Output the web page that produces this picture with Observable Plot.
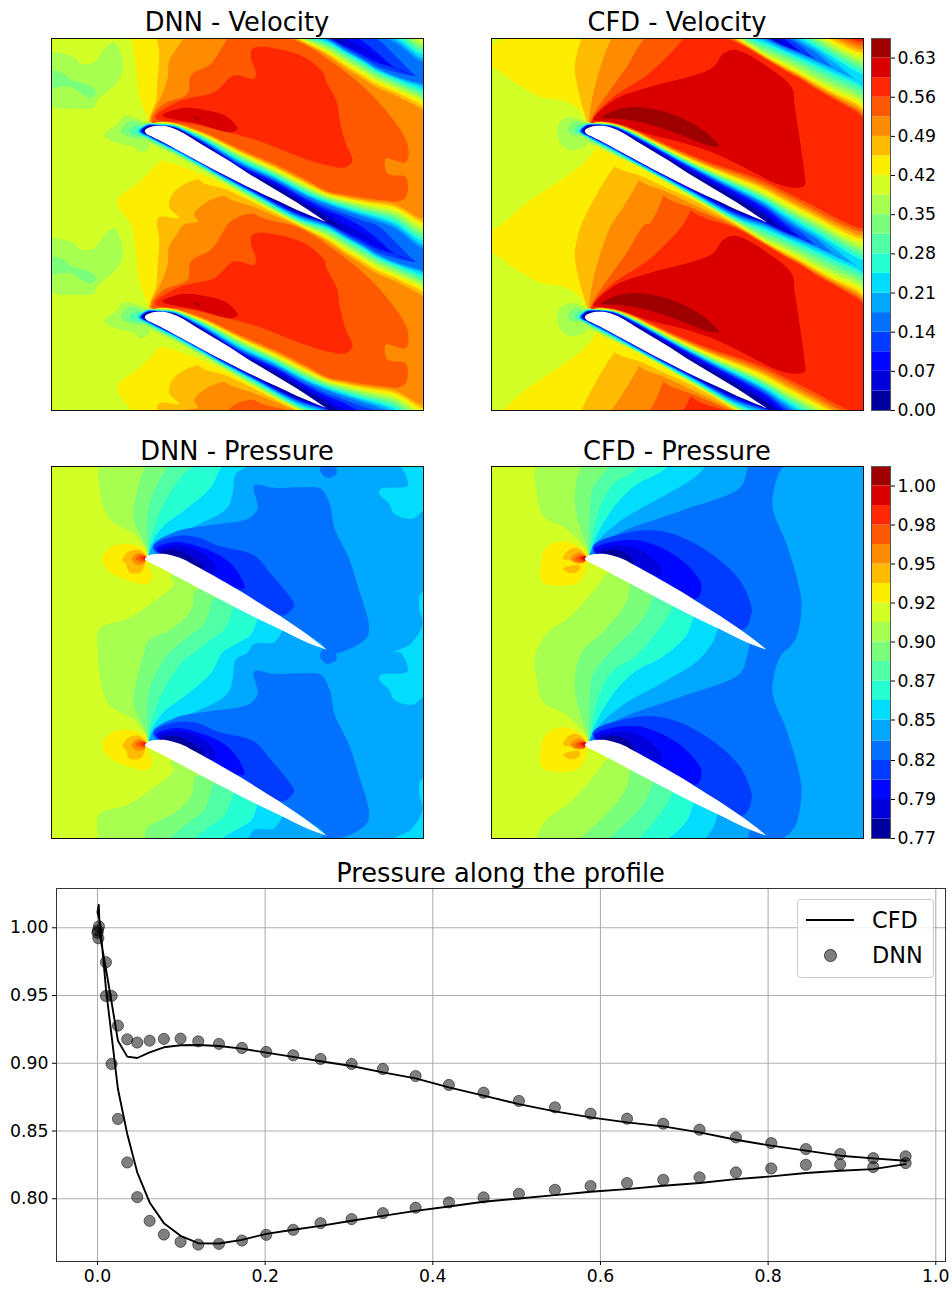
<!DOCTYPE html>
<html><head><meta charset="utf-8">
<script src="https://cdn.jsdelivr.net/npm/d3@7"></script>
<script src="https://cdn.jsdelivr.net/npm/@observablehq/plot@0.6"></script>
<style>
html,body{margin:0;padding:0;background:#fff}
#page{position:relative;width:952px;height:1289px;overflow:hidden;font-family:"DejaVu Sans",sans-serif;color:#000}
#page svg{position:absolute;overflow:visible;background:transparent}
.ttl{position:absolute;font-size:25.7px;line-height:25px;text-align:center;white-space:nowrap}
#legend{position:absolute;left:797px;top:899px;width:135px;height:77px;background:rgba(255,255,255,.8);border:1px solid #ccc;border-radius:4px;font-size:22.4px;line-height:26px}
#legend span{position:absolute}
</style></head><body><div id="page"></div>
<script>
/* ---------- colour levels ---------- */
const jetColors=["#00009e","#0000db","#0007ff","#003cff","#0072ff","#00a8ff","#00ddff","#25ffd2","#50ffa6","#7bff7b","#a7ff50","#d2ff25","#fdee00","#ffbc00","#ff8b00","#ff5900","#ff2700","#db0000","#9e0000"];
const velEdges=[0,.035,.07,.105,.14,.175,.21,.245,.28,.315,.35,.385,.42,.455,.49,.525,.56,.595,.63,.665];
const presEdges=[.767,.78,.793,.806,.819,.832,.846,.859,.872,.885,.898,.911,.924,.937,.95,.963,.976,.989,1.002,1.015];
const velTicks=[0,.07,.14,.21,.28,.35,.42,.49,.56,.63];
const presTicks=[.767,.793,.819,.846,.872,.898,.924,.95,.976,1.002];

/* ---------- profile geometry (panel grid units, 0-1116) ---------- */
const pitch=558;
const velFoil=[[280,278],[285,271],[295,266],[315,262],[335,262],[360,268],[385,278],[435,308],[485,338],[535,368],[585,401],[635,431],[685,461],[735,491],[785,524],[825,551],[825,551],[785,535],[735,514],[685,490],[635,467],[585,443],[535,418],[485,392],[435,365],[385,338],[335,311],[305,296],[285,286]];
const presFoil=[[280,278],[287,269],[305,263],[335,262],[385,274],[425,294],[465,316],[510,341],[565,373],[610,401],[685,448],[760,499],[825,549],[825,549],[765,527],[685,488],[610,452],[545,419],[485,388],[415,351],[335,308],[295,288]];
const camber=[[295,278],[335,286],[385,308],[435,336],[485,366],[535,394],[585,424],[635,452],[685,478],[735,506],[785,529],[825,551],[875,576],[930,599],[975,621],[1030,648],[1095,681],[1125,694],[1135,697]];

/* ---------- band boundary stations shared by the velocity fields ---------- */
const upperX=[320,345,400,460,500,600,700,800,860,910,965,1010,1065,1130,1160];
const lowerX=[1160,1130,1065,1010,965,910,860,770,640,550,480,400,360,325];

/* CFD velocity: boundary height of bands 0..15 at each station */
const cfdVelNose=[310,308,306,304,302,300,298,296,294,292,290,330,330,330,330,330];
const cfdVelUpper=[
[378,377,376,375,374,373,372,371,370,368,365,385,385,385,385,385],
[375,374,373,373,372,372,371,370,370,370,369,368,367,367,366,365],
[382,380,379,378,377,376,376,375,374,373,373,372,371,370,368,367],
[412,409,407,405,404,402,401,400,399,397,396,394,392,391,388,386],
[435,432,429,427,425,424,422,421,419,418,416,414,412,410,407,404],
[495,491,486,483,481,479,477,474,472,470,468,465,461,458,454,450],
[553,547,540,537,533,530,527,524,521,518,515,510,505,502,496,490],
[611,602,593,588,583,579,575,569,565,561,557,551,544,538,530,522],
[648,639,628,622,616,611,606,600,595,591,586,579,570,564,555,545],
[690,680,668,660,652,645,638,632,626,620,614,606,598,590,580,570],
[713,713,713,697,688,680,672,664,656,650,643,635,627,619,609,598],
[735,735,735,735,715,706,698,690,682,674,666,658,650,642,632,620],
[762,762,762,762,762,745,732,723,714,706,698,689,681,672,662,650],
[795,795,795,795,795,795,772,760,750,741,731,721,711,701,691,680],
[808,808,808,808,808,808,785,776,766,756,745,733,722,711,700,690]];
const cfdVelLower=[
[808,808,808,808,808,808,822,832,843,855,866,877,888,895,903,912],
[795,795,795,795,795,795,805,814,826,837,848,858,868,876,885,892],
[762,762,762,762,762,768,777,787,798,810,820,830,838,844,850,855],
[735,735,735,735,738,744,752,761,771,783,793,802,808,814,819,824],
[713,713,713,716,720,726,733,741,750,759,768,776,782,787,791,795],
[690,690,692,695,699,704,709,716,724,733,741,748,754,758,762,765],
[665,667,669,672,676,681,688,695,703,711,718,724,727,730,733,735],
[632,635,638,642,646,650,653,657,660,663,666,669,672,676,680,683],
[568,570,572,574,576,578,581,584,586,588,590,593,598,612,624,635],
[522,523,525,526,528,530,532,533,535,537,539,541,557,570,585,524],
[483,485,487,488,490,492,494,495,496,498,500,503,525,540,486,486],
[440,441,443,444,446,448,450,452,454,458,463,460,494,441,441,441],
[420,421,422,423,425,427,429,431,433,436,441,445,420,420,420,420],
[403,404,405,406,407,408,410,412,414,417,425,398,398,398,398,398]];
const cfdVelLeft=[[20,200],[110,250],[185,290],[250,300],[300,330],[322,365],[345,392],[345,445],[320,480],[270,520],[150,600],[20,688]];
const cfdVelFan13=[[322,365],[300,290],[285,210],[290,165],[305,114],[360,7],[405,-63]];
const cfdVelFan14=[[328,360],[340,280],[365,190],[395,114],[430,62],[477,-18]];
const cfdVelFan15=[[335,355],[390,270],[440,200],[495,114],[510,112],[550,27]];
const cfdVelFan16=[[345,345],[400,290],[500,225],[565,165],[610,114],[630,77]];
const cfdVelLobe17=[[340,358],[400,300],[500,262],[640,225],[700,200],[730,160],[760,148],[800,160],[850,190],[935,260],[945,320],[975,530],[975,555],[950,562],[900,553],[820,515],[720,465],[620,430],[520,405],[440,380],[360,362]];
const cfdVelLobe18=[[365,350],[420,325],[480,320],[560,335],[640,370],[690,405],[718,437],[680,433],[620,410],[520,375],[440,358],[365,352]];
const cfdVelBlob10=[[232,390],[240,365],[265,350],[295,355],[322,372],[330,400],[325,425],[300,445],[265,447],[240,425]];
const cfdVelBlob9=[[265,392],[270,375],[290,363],[315,375],[325,400],[300,405],[275,403]];
const cfdVelBlob8=[[285,392],[296,375],[325,380],[325,400],[305,402]];

/* DNN velocity: boundary height of bands 0..14 at each station */
const dnnVelNose=[306,304,302,300,298,295,292,288,285,283,282,330,330,330,330];
const dnnVelUpper=[
[378,377,376,375,374,373,372,371,370,368,365,385,385,385,385],
[376,375,375,374,373,373,372,371,370,370,369,368,367,367,366],
[382,382,381,380,379,378,376,375,374,373,372,371,369,368,367],
[414,413,411,409,407,405,402,400,398,396,394,392,390,387,385],
[438,437,435,432,429,426,423,420,417,414,412,409,406,403,400],
[503,500,497,493,489,485,481,476,472,468,464,460,456,452,447],
[555,550,544,540,535,531,527,523,519,515,511,506,501,496,490],
[615,608,600,595,588,584,580,575,570,566,561,556,551,546,540],
[650,640,630,622,612,608,604,600,596,592,588,584,580,576,572],
[688,670,650,640,630,625,620,615,610,606,601,596,592,587,582],
[712,700,680,660,648,642,637,631,626,620,614,609,603,598,592],
[735,730,715,675,662,655,649,642,636,630,623,617,610,604,598],
[762,762,762,725,685,676,668,660,652,645,637,629,621,613,606],
[785,785,785,785,735,725,715,706,697,688,678,668,659,650,640],
[783,783,783,783,750,741,729,719,711,704,697,689,678,662,650]];
const dnnVelLower=[
[783,783,783,783,810,816,828,838,845,853,860,868,878,890,908],
[785,785,785,785,805,810,818,826,833,840,847,854,864,876,890],
[762,762,762,773,785,789,793,798,805,811,818,825,833,843,857],
[735,735,745,755,762,766,770,774,780,787,794,802,810,820,832],
[712,712,722,730,735,738,742,747,754,761,768,775,783,792,805],
[690,690,695,700,705,708,712,716,722,729,736,743,750,758,768],
[666,668,670,672,676,679,683,688,693,699,705,711,717,723,730],
[634,637,640,643,646,650,654,657,660,663,666,669,672,676,680],
[570,572,574,576,578,580,583,586,589,593,598,601,607,620,640],
[524,525,526,528,530,532,534,536,539,542,546,552,565,585,526],
[485,486,487,488,490,492,494,496,499,502,506,520,542,488,488],
[442,443,444,445,446,448,450,452,455,458,463,490,443,443,443],
[422,423,424,425,427,428,430,432,435,439,445,478,422,422,422],
[404,405,406,407,408,410,412,414,417,420,426,398,398,398,398]];
const dnnVelFan12=[[322,360],[295,285],[285,200],[270,114],[232,62],[228,40],[300,-18],[360,-80]];
const dnnVelFan13=[[325,358],[345,300],[350,240],[355,150],[348,114],[355,92],[415,94],[385,62],[395,22],[435,-10],[470,-22]];
const dnnVelFan14=[[330,350],[360,290],[380,235],[385,180],[410,140],[430,114],[470,105],[460,82],[500,45],[550,27]];
const dnnVelLobe15=[[335,350],[370,310],[440,280],[450,225],[510,190],[550,130],[560,114],[590,92],[640,82],[760,114],[880,190],[1000,290],[1100,430],[1095,485],[1035,475],[1040,520],[1095,530],[1095,590],[1060,605],[860,600],[720,540],[500,450],[345,385]];
const dnnVelLobe16=[[345,345],[420,300],[520,275],[580,225],[640,235],[645,215],[630,170],[635,145],[680,140],[790,170],[850,220],[855,240],[890,310],[895,350],[915,430],[935,480],[915,500],[860,495],[780,470],[650,420],[560,395],[450,370],[345,355]];
const dnnVelLobe17=[[365,345],[420,323],[500,330],[560,350],[590,385],[570,395],[470,370]];
const dnnVelLobe18=[[458,348],[480,355],[475,358],[458,350]];
const dnnVelPatch10=[[20,160],[100,170],[120,190],[160,185],[195,140],[220,125],[240,160],[245,210],[225,250],[170,300],[160,320],[110,325],[20,310]];
const dnnVelPatch9=[[20,215],[60,215],[95,240],[130,250],[160,265],[165,280],[150,292],[130,285],[90,260],[20,260]];
const dnnVelBlob10=[[190,402],[225,375],[250,348],[290,355],[320,375],[325,440],[300,455],[280,440],[240,430],[205,418]];
const dnnVelBlob9=[[240,395],[260,365],[295,365],[312,380],[315,410],[290,415],[255,405]];
const dnnVelBlob8=[[265,392],[285,375],[305,380],[312,400],[285,405]];

/* CFD pressure boundaries */
const cfdPresFan10=[[322,360],[255,292],[190,257],[170,182],[165,122],[200,52],[270,1],[330,-64],[375,-124]];
const cfdPresFan9=[[325,362],[290,252],[285,192],[305,108],[370,46],[440,-44],[450,-99]];
const cfdPresFan8=[[328,357],[330,242],[340,172],[390,108],[490,6],[520,-64]];
const cfdPresFan7=[[332,352],[360,232],[400,162],[470,116],[560,6],[580,-34]];
const cfdPresFan6=[[336,350],[400,232],[470,162],[540,126],[620,56],[642,-4]];
const cfdPresFan5=[[338,352],[420,272],[560,192],[650,136],[700,76],[715,31]];
const cfdPresFan4=[[342,354],[430,302],[600,242],[780,172],[800,126],[810,81]];
const cfdPresRight5=[[920,100],[880,190],[880,240],[920,340],[960,480],[965,530],[950,620],[918,676],[1170,676],[1170,100]];
const cfdPresLobe3=[[338,352],[450,305],[560,305],[680,360],[780,450],[815,530],[815,549],[790,596]];
const cfdPresLobe2=[[342,358],[420,330],[500,335],[600,385],[660,450],[665,470],[650,504]];
const cfdPresLobe1=[[347,362],[420,345],[480,358],[535,400],[545,424],[545,436]];
const cfdPresLobe0=[[360,368],[400,358],[440,370],[462,394],[460,405]];
const cfdPresBlob12=[[190,365],[215,340],[260,333],[300,350],[322,375],[315,430],[290,460],[240,466],[185,452],[185,385]];
const cfdPresBlob13a=[[250,385],[265,360],[290,352],[315,370],[318,385]];
const cfdPresBlob13b=[[250,415],[275,405],[300,405],[298,420],[270,428]];
const cfdPresBlob14=[[272,385],[295,366],[316,376],[313,396],[285,397]];
const cfdPresBlob15=[[285,385],[300,375],[318,378],[315,393],[295,393]];
const cfdPresBlob16=[[298,382],[318,378],[315,392]];
const cfdPresBlob17=[[306,380],[319,378],[316,390]];

/* DNN pressure boundaries */
const dnnPresFan10=[[318,360],[280,310],[205,265],[175,170],[172,108],[175,37],[260,7],[330,-38],[400,-98],[385,-118]];
const dnnPresFan9=[[320,358],[278,260],[290,180],[310,108],[320,75],[400,32],[450,-18],[460,-78]];
const dnnPresFan8=[[323,355],[318,290],[325,225],[350,160],[385,108],[440,62],[490,22],[515,-53]];
const dnnPresFan7=[[325,350],[345,275],[380,200],[430,130],[460,108],[510,70],[550,40],[578,-28]];
const dnnPresFan6=[[328,350],[365,290],[430,240],[510,170],[545,108],[590,80],[630,55],[650,7]];
const dnnPresFan5=[[335,348],[430,302],[560,232],[575,190],[585,130],[620,108],[640,82],[700,77],[725,42]];
const dnnPresPatch6=[[1170,-78],[1140,-68],[1135,-28],[1145,22],[1110,82],[1060,107],[1078,108],[1100,165],[1020,175],[1015,190],[1045,220],[1060,250],[1115,265],[1150,240],[1170,240]];
const dnnPresLobe4=[[335,352],[400,305],[500,285],[620,265],[650,235],[640,165],[700,172],[780,170],[840,175],[868,225],[880,290],[925,385],[950,465],[985,590],[975,625],[890,668],[840,665],[850,650]];
const dnnPresSpot4=[[838,112],[880,108],[888,128],[860,142],[840,125]];
const dnnPresLobe3=[[338,350],[400,318],[470,320],[530,345],[640,375],[690,430],[740,490],[760,525],[740,548],[725,555]];
const dnnPresLobe2=[[345,355],[400,335],[480,350],[560,390],[600,440],[610,475]];
const dnnPresLobe1=[[350,360],[410,345],[480,365],[525,410],[520,430]];
const dnnPresLobe0=[[358,368],[400,358],[460,385],[490,410],[470,415]];
const dnnPresBlob12=[[185,378],[210,350],[250,340],[300,350],[318,375],[325,410],[335,440],[320,460],[280,455],[215,430],[190,405]];
const dnnPresBlob13=[[245,392],[260,365],[295,358],[315,375],[315,390],[300,425],[265,425],[255,400]];
const dnnPresBlob14=[[272,385],[290,368],[312,378],[312,395],[300,403],[280,398]];
const dnnPresBlob15=[[285,385],[300,372],[316,378],[312,392],[295,392]];
const dnnPresBlob16=[[300,382],[317,378],[314,390]];
const dnnPresBlob17=[[308,381],[318,380],[314,388]];

/* ---------- pressure along the profile ---------- */
const dnnX=[.0017,0,.001,.0005,.0101,.0168,.0101,.0168,.0244,.0244,.0355,.0355,.0474,.0474,.0622,.0622,.0792,.0792,.0991,.0991,.1202,.1202,.1449,.1449,.1723,.1723,.2013,.2013,.2335,.2335,.2661,.2661,.3031,.3031,.3405,.3405,.3795,.3795,.4192,.4192,.4606,.4606,.5027,.5027,.5457,.5457,.5882,.5882,.6317,.6317,.6749,.6749,.7182,.7182,.7616,.7616,.8037,.8037,.8451,.8451,.886,.886,.9254,.9254,.964,.964];
const dnnP=[1.001,.9963,.9923,.998,.9746,.9497,.9497,.8995,.9278,.8589,.9177,.8268,.9153,.8012,.9167,.7837,.918,.7736,.9182,.7682,.9162,.7662,.9143,.7667,.9113,.7692,.9084,.7734,.9059,.7771,.9032,.782,.8995,.785,.8958,.7894,.8906,.7934,.884,.7973,.8783,.801,.8722,.8037,.8675,.8066,.8628,.8094,.8591,.8116,.8554,.814,.851,.8158,.8453,.8195,.8411,.8224,.8367,.8251,.833,.8254,.83,.8234,.8313,.8263];
const cfdX=[.964,.9254,.886,.8451,.8037,.7616,.7182,.6749,.6317,.5882,.5457,.5027,.4606,.4192,.3795,.3405,.3031,.2661,.2335,.2013,.1723,.1449,.1202,.0991,.0792,.0622,.0474,.0355,.0244,.0168,.0101,.003,0,.0015,.003,.0101,.0168,.0244,.0355,.0474,.0622,.0792,.0991,.1202,.1449,.1723,.2013,.2335,.2661,.3031,.3405,.3795,.4192,.4606,.5027,.5457,.5882,.6317,.6749,.7182,.7616,.8037,.8451,.886,.9254,.964];
const cfdP=[.8256,.8219,.8207,.819,.8165,.8145,.8116,.8096,.8071,.8052,.8027,.8002,.7978,.7943,.7911,.7874,.7838,.78,.7771,.7741,.7697,.767,.7672,.7727,.782,.7973,.8195,.8478,.881,.9204,.9549,1.004,1.0115,1.0169,.9943,.9697,.9451,.9167,.9049,.9039,.9081,.9118,.9133,.9135,.9128,.9108,.9079,.9047,.9015,.898,.8933,.8889,.8822,.8761,.8699,.8645,.8601,.8564,.8534,.849,.8436,.8392,.8355,.8318,.8298,.8281];
const profileXTicks=[0,.2,.4,.6,.8,1];
const profileYTicks=[.8,.85,.9,.95,1];

/* ---------- layers ---------- */
const P=(band,pts)=>({band,pts});
const F=(band,pts)=>({band,pts,fan:true});
const strip=(nose,up,lo,b)=>P(b,[[nose[b],392],...upperX.map((x,i)=>[x,up[i][b]]),...lowerX.map((x,i)=>[x,lo[i][b]])]);
const cs=b=>strip(cfdVelNose,cfdVelUpper,cfdVelLower,b);
const ds=b=>strip(dnnVelNose,dnnVelUpper,dnnVelLower,b);

const velCfdLayers=[P(11,cfdVelLeft),F(13,cfdVelFan13),F(14,cfdVelFan14),F(15,cfdVelFan15),F(16,cfdVelFan16),P(17,cfdVelLobe17),P(18,cfdVelLobe18),
 cs(15),cs(14),cs(13),cs(12),cs(11),P(10,cfdVelBlob10),cs(10),P(9,cfdVelBlob9),cs(9),P(8,cfdVelBlob8),cs(8),cs(7),cs(6),cs(5),cs(4),cs(3),cs(2),cs(1),cs(0)];
const velDnnLayers=[P(10,dnnVelPatch10),P(9,dnnVelPatch9),F(12,dnnVelFan12),F(13,dnnVelFan13),F(14,dnnVelFan14),P(15,dnnVelLobe15),P(16,dnnVelLobe16),P(17,dnnVelLobe17),P(18,dnnVelLobe18),
 ds(14),ds(13),ds(12),ds(11),P(10,dnnVelBlob10),ds(10),P(9,dnnVelBlob9),ds(9),P(8,dnnVelBlob8),ds(8),ds(7),ds(6),ds(5),ds(4),ds(3),ds(2),ds(1),ds(0)];
const presCfdLayers=[F(10,cfdPresFan10),F(9,cfdPresFan9),F(8,cfdPresFan8),F(7,cfdPresFan7),F(6,cfdPresFan6),F(5,cfdPresFan5),F(4,cfdPresFan4),P(5,cfdPresRight5),P(3,cfdPresLobe3),P(2,cfdPresLobe2),P(1,cfdPresLobe1),P(0,cfdPresLobe0),
 P(12,cfdPresBlob12),P(13,cfdPresBlob13a),P(13,cfdPresBlob13b),P(14,cfdPresBlob14),P(15,cfdPresBlob15),P(16,cfdPresBlob16),P(17,cfdPresBlob17)];
const presDnnLayers=[F(10,dnnPresFan10),F(9,dnnPresFan9),F(8,dnnPresFan8),F(7,dnnPresFan7),F(6,dnnPresFan6),F(5,dnnPresFan5),P(6,dnnPresPatch6),P(4,dnnPresLobe4),P(4,dnnPresSpot4),P(3,dnnPresLobe3),P(2,dnnPresLobe2),P(1,dnnPresLobe1),P(0,dnnPresLobe0),
 P(12,dnnPresBlob12),P(13,dnnPresBlob13),P(14,dnnPresBlob14),P(15,dnnPresBlob15),P(16,dnnPresBlob16),P(17,dnnPresBlob17)];

function rowsFor(layers,ox,oy){
  const rows=[];let id=0;
  for(const l of layers){
    let pts=l.pts.map(([x,y])=>[x-ox,y-oy]);
    if(l.fan){
      const tip=pts[pts.length-1];
      const top=camber.filter(p=>p[0]>tip[0]+15).map(([x,y])=>[x,y-pitch]);
      const bottom=camber.slice().reverse().map(([x,y])=>[x,x>825?y+10:y]);
      pts=[...pts,tip,...top,...bottom];
    }
    for(const k of [-1,0,1,2]){
      id++;
      for(const [x,y] of pts) rows.push({id,band:l.band,x,y:y+k*pitch});
    }
  }
  return rows;
}
function foilRows(foil){
  const rows=[];
  for(const k of [0,1]) for(const [x,y] of foil) rows.push({k,x,y:y+k*pitch});
  return rows;
}
const page=document.getElementById("page");
const colorScale={type:"ordinal",domain:d3.range(19),range:jetColors};
function place(svg,left,top){svg.style.left=left+"px";svg.style.top=top+"px";page.appendChild(svg);}
function title(text,cx,top){const d=document.createElement("div");d.className="ttl";d.textContent=text;d.style.left=(cx-200)+"px";d.style.width="400px";d.style.top=top+"px";page.appendChild(d);}

function field(layers,ox,oy,bg,foil,left,top){
  const svg=Plot.plot({width:374,height:374,marginLeft:1,marginRight:1,marginTop:1,marginBottom:1,
    x:{domain:[0,1116],axis:null},y:{domain:[1116,0],axis:null},color:colorScale,
    style:{background:"transparent"},
    marks:[
      Plot.frame({fill:jetColors[bg],stroke:"none"}),
      Plot.line(rowsFor(layers,ox,oy),{x:"x",y:"y",z:"id",fill:"band",stroke:"none",clip:true,curve:"catmull-rom-closed"}),
      Plot.line(foilRows(foil),{x:"x",y:"y",z:"k",fill:"white",stroke:"none",clip:true,curve:"catmull-rom-closed"}),
      Plot.frame({stroke:"#111",strokeWidth:1})
    ]});
  place(svg,left,top);
}
function colorbar(edges,ticks,top){
  const bands=d3.range(19).map(i=>({band:i,a:edges[i],b:edges[i+1]}));
  const svg=Plot.plot({width:80,height:386,marginLeft:1,marginRight:60,marginTop:1,marginBottom:13,
    x:{domain:[0,1],axis:null},y:{domain:[edges[0],edges[19]],axis:null},color:colorScale,
    style:{background:"transparent",fontFamily:"DejaVu Sans",fontSize:"17.3px",color:"#000"},
    marks:[
      Plot.rect(bands,{x1:()=>0,x2:()=>1,y1:"a",y2:"b",fill:"band"}),
      Plot.frame({stroke:"#555",strokeWidth:1}),
      Plot.axisY(ticks,{anchor:"right",tickFormat:".2f",tickSize:4,tickPadding:3,label:null,fontSize:17.3})
    ]});
  place(svg,870,top);
}
field(velDnnLayers,32,114,11,velFoil,50,37);
field(velCfdLayers,35,114,12,velFoil,490,37);
field(presDnnLayers,32,108,11,presFoil,50,465);
field(presCfdLayers,35,108,11,presFoil,490,465);
colorbar(velEdges,velTicks,37);
colorbar(presEdges,presTicks,465);
title("DNN - Velocity",237,10);
title("CFD - Velocity",677,10);
title("DNN - Pressure",237,439);
title("CFD - Pressure",677,439);
title("Pressure along the profile",500.5,861);

/* profile chart */
const cfdRows=cfdX.map((x,i)=>({x,y:cfdP[i]}));
const dnnRows=dnnX.map((x,i)=>({x,y:dnnP[i]}));
const prof=Plot.plot({width:946,height:402,marginLeft:56,marginRight:1,marginTop:1,marginBottom:28,
  x:{domain:[-.0489,1.0116],axis:null},y:{domain:[.7537,1.029],axis:null},
  style:{background:"transparent",fontFamily:"DejaVu Sans",fontSize:"17.3px",color:"#000"},
  marks:[
    Plot.ruleX(profileXTicks,{stroke:"#b0b0b0",strokeWidth:1.1}),
    Plot.ruleY(profileYTicks,{stroke:"#b0b0b0",strokeWidth:1.1}),
    Plot.dot(dnnRows,{x:"x",y:"y",r:5.6,fill:"#000",fillOpacity:.5,stroke:"#000",strokeOpacity:.5,strokeWidth:1}),
    Plot.line(cfdRows,{x:"x",y:"y",stroke:"#000",strokeWidth:1.9}),
    Plot.frame({stroke:"#333",strokeWidth:1}),
    Plot.axisX(profileXTicks,{tickFormat:".1f",tickSize:4,tickPadding:4,label:null,fontSize:17.3}),
    Plot.axisY(profileYTicks,{tickFormat:".2f",tickSize:4,tickPadding:4,label:null,fontSize:17.3})
  ]});
place(prof,0,887);

/* legend */
const lg=document.createElement("div");lg.id="legend";
lg.innerHTML='<span style="left:8px;top:19px;width:48px;height:2px;background:#000"></span>'+
 '<span style="left:26px;top:49px;width:11px;height:11px;border-radius:50%;background:rgba(0,0,0,.5);border:1px solid rgba(0,0,0,.5)"></span>'+
 '<span style="left:74px;top:7px">CFD</span><span style="left:74px;top:42px">DNN</span>';
page.appendChild(lg);
</script></body></html>
